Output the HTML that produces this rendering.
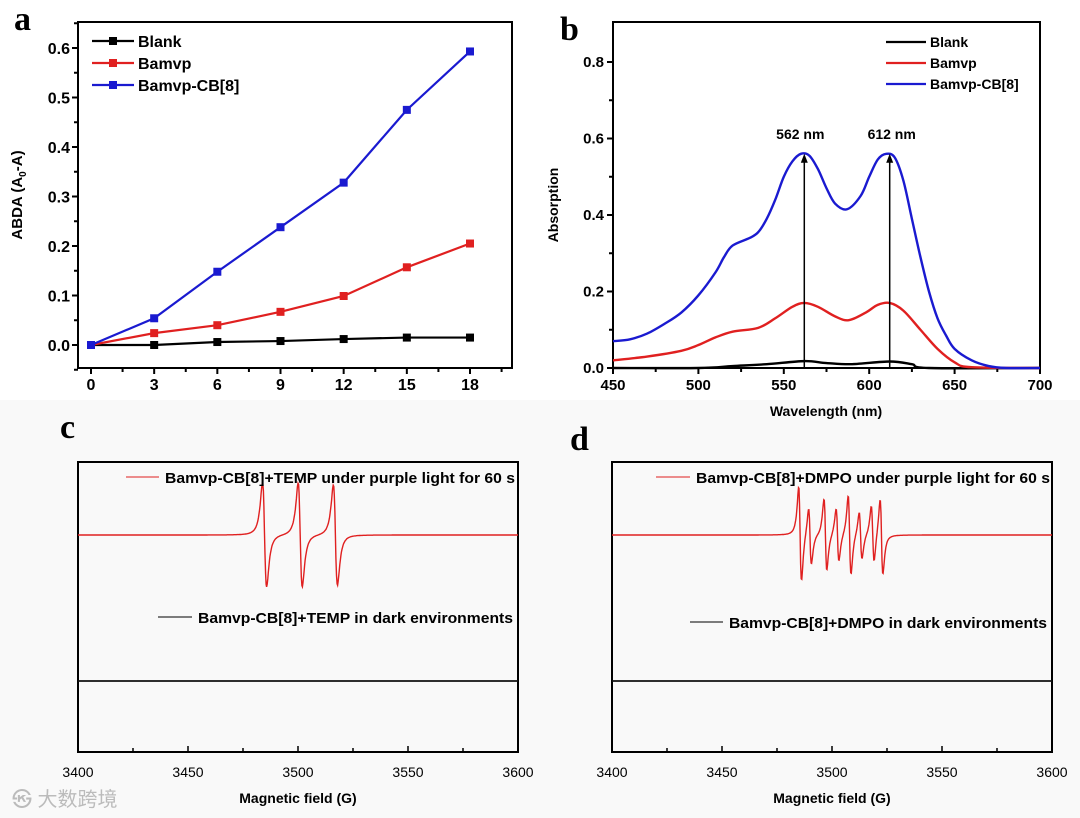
<!DOCTYPE html>
<html><head><meta charset="utf-8">
<style>
html,body{margin:0;padding:0;background:#fff;}
svg{display:block;font-family:"Liberation Sans",Arial,sans-serif;}
</style></head>
<body>
<svg id="fig" width="1080" height="818" viewBox="0 0 1080 818" xmlns="http://www.w3.org/2000/svg">
<rect x="0" y="400" width="1080" height="418" fill="#f9f9f9"/>
<text x="14" y="30" font-family="Liberation Serif,serif" font-weight="bold" font-size="34">a</text>
<text x="560" y="40" font-family="Liberation Serif,serif" font-weight="bold" font-size="34">b</text>
<text x="60" y="438" font-family="Liberation Serif,serif" font-weight="bold" font-size="34">c</text>
<text x="570" y="450" font-family="Liberation Serif,serif" font-weight="bold" font-size="34">d</text>
<text x="12" y="806" font-family="Liberation Sans,Noto Sans CJK SC,sans-serif" font-size="20" fill="#bbb">㉿ 大数跨境</text>
<g id="pa"></g><g id="pb"></g><g id="pc"></g><g id="pd"></g>
</svg>
<script>
// Panel a data
const aX = [0,3,6,9,12,15,18];
const aBlank = [0,0,0.006,0.008,0.012,0.015,0.015];
const aBamvp = [0,0.024,0.040,0.067,0.099,0.157,0.205];
const aCB = [0,0.054,0.148,0.238,0.328,0.475,0.593];
const aXTicks = [0,3,6,9,12,15,18];
const aYTicks = [0.0,0.1,0.2,0.3,0.4,0.5,0.6];
// Panel b data
const bBlueX = [450,460,470,480,490,500,510,515,520,530,535,540,545,550,555,560,565,570,575,580,587,595,600,605,610,615,620,625,630,635,640,645,650,660,670,680,700];
const bBlueY = [0.07,0.075,0.09,0.115,0.145,0.19,0.25,0.29,0.32,0.34,0.355,0.39,0.44,0.5,0.54,0.56,0.555,0.52,0.47,0.43,0.415,0.45,0.5,0.545,0.56,0.55,0.49,0.39,0.29,0.2,0.13,0.085,0.05,0.02,0.005,0,0];
const bRedX = [450,470,490,500,510,520,535,545,555,562,570,580,588,598,605,612,620,630,640,650,660,700];
const bRedY = [0.02,0.03,0.045,0.06,0.08,0.095,0.105,0.13,0.16,0.17,0.16,0.135,0.125,0.145,0.165,0.17,0.15,0.1,0.05,0.015,0.002,0];
const bBlackX = [450,500,520,540,562,575,590,612,625,635,700];
const bBlackY = [0,0,0.005,0.01,0.018,0.013,0.01,0.017,0.01,0,0];
const bXTicks = [450,500,550,600,650,700];
const bYTicks = [0.0,0.2,0.4,0.6,0.8];
const bPeaks = [562,612];
const bPeakVals = [0.56,0.56];
// Panel c/d EPR line parameters
const epXTicks = [3400,3450,3500,3550,3600];
const cCenters = [3484.8,3501,3517];
const cAmps = [0.55,0.55,0.53];
const dCenters = [3485.5,3490,3497,3502.5,3508,3513,3518.5,3522.5];
const dAmps = [0.5,0.3,0.38,0.28,0.42,0.25,0.3,0.4];

const NS='http://www.w3.org/2000/svg';
function mk(parent,tag,attrs){const e=document.createElementNS(NS,tag);for(const k in attrs)e.setAttribute(k,attrs[k]);parent.appendChild(e);return e;}
function txt(parent,x,y,s,attrs){const e=mk(parent,'text',Object.assign({x:x,y:y},attrs||{}));e.textContent=s;return e;}

// ---------- Panel a ----------
(function(){
const g=document.getElementById('pa');
const L=78,R=512,T=22,B=368;
const sx=v=>91+(v-0)*(470-91)/18;
const sy=v=>345-v*(345-48)/0.6;
let e=mk(g,'rect',{x:L,y:T,width:R-L,height:B-T,fill:'none',stroke:'#000','stroke-width':2});

for(let v=0;v<=19.5;v+=1.5){const maj=Math.abs(v/3-Math.round(v/3))<1e-6;
 e=mk(g,'line',{x1:sx(v),x2:sx(v),y1:B,y2:B+(maj?6:4),stroke:'#000','stroke-width':2});
 }
aXTicks.forEach(v=>{e=txt(g,sx(v),390,String(v),{'text-anchor':'middle','font-size':16,'font-weight':'bold'});
 });
for(let v=-0.05;v<=0.65;v+=0.05){e=mk(g,'line',{x1:L,x2:L-(Math.abs(v*10-Math.round(v*10))<1e-6?6:4),y1:sy(v),y2:sy(v),stroke:'#000','stroke-width':2});
 }
aYTicks.forEach(v=>{e=txt(g,70,sy(v)+6,v.toFixed(1),{'text-anchor':'end','font-size':16,'font-weight':'bold'});
 });
e=mk(g,'text',{x:0,y:0,transform:'translate(22,195) rotate(-90)','text-anchor':'middle','font-size':15,'font-weight':'bold'});
e.innerHTML='ABDA (A<tspan font-size="10" dy="4">0</tspan><tspan dy="-4">-A)</tspan>';

const series=[[aBlank,'#000','blank'],[aBamvp,'#e02020','bamvp'],[aCB,'#1a1ad0','bamvp-cb8']];
series.forEach(([ys,c,n])=>{
 e=mk(g,'polyline',{points:aX.map((x,i)=>sx(x)+','+sy(ys[i])).join(' '),fill:'none',stroke:c,'stroke-width':2.2});
 
 aX.forEach((x,i)=>{e=mk(g,'rect',{x:sx(x)-4,y:sy(ys[i])-4,width:8,height:8,fill:c});
  });
});
const leg=[['Blank','#000'],['Bamvp','#e02020'],['Bamvp-CB[8]','#1a1ad0']];
leg.forEach(([s,c],i)=>{const y=41+i*22;
 e=mk(g,'line',{x1:92,x2:134,y1:y,y2:y,stroke:c,'stroke-width':2.2});
 e=mk(g,'rect',{x:109,y:y-4,width:8,height:8,fill:c});
 e=txt(g,138,y+6,s,{'font-size':16,'font-weight':'bold'});});
})();

// ---------- Panel b ----------
(function(){
const g=document.getElementById('pb');
const L=613,R=1040,T=22,B=368;
const sx=v=>L+(v-450)*(R-L)/250;
const sy=v=>368-v*(368-62)/0.8;
let e=mk(g,'rect',{x:L,y:T,width:R-L,height:B-T,fill:'none',stroke:'#000','stroke-width':2});

for(let v=450;v<=700;v+=25){e=mk(g,'line',{x1:sx(v),x2:sx(v),y1:B,y2:B+(v%50===0?6:4),stroke:'#000','stroke-width':2});
 }
bXTicks.forEach(v=>{e=txt(g,sx(v),390,String(v),{'text-anchor':'middle','font-size':15,'font-weight':'bold'});
 });
for(let v=0;v<=0.85;v+=0.1){e=mk(g,'line',{x1:L,x2:L-(Math.round(v*10)%2===0?6:4),y1:sy(v),y2:sy(v),stroke:'#000','stroke-width':2});
 }
bYTicks.forEach(v=>{e=txt(g,604,sy(v)+5,v.toFixed(1),{'text-anchor':'end','font-size':15,'font-weight':'bold'});
 });
e=txt(g,0,0,'Absorption',{transform:'translate(558,205) rotate(-90)','text-anchor':'middle','font-size':14,'font-weight':'bold'});

e=txt(g,826,416,'Wavelength (nm)',{'text-anchor':'middle','font-size':14,'font-weight':'bold'});

function smooth(xs,ys){let d='M'+sx(xs[0])+','+sy(ys[0]);
 for(let i=0;i<xs.length-1;i++){const x0=sx(xs[Math.max(0,i-1)]),y0=sy(ys[Math.max(0,i-1)]),x1=sx(xs[i]),y1=sy(ys[i]),x2=sx(xs[i+1]),y2=sy(ys[i+1]),x3=sx(xs[Math.min(xs.length-1,i+2)]),y3=sy(ys[Math.min(xs.length-1,i+2)]);
  d+=' C'+(x1+(x2-x0)/6)+','+(y1+(y2-y0)/6)+' '+(x2-(x3-x1)/6)+','+(y2-(y3-y1)/6)+' '+x2+','+y2;}
 return d;}
[[bBlackX,bBlackY,'#000','blank'],[bRedX,bRedY,'#e02020','bamvp'],[bBlueX,bBlueY,'#1a1ad0','bamvp-cb8']].forEach(([xs,ys,c,n])=>{
 e=mk(g,'path',{d:smooth(xs,ys),fill:'none',stroke:c,'stroke-width':2.4});
 });
bPeaks.forEach((p,i)=>{
 e=mk(g,'line',{x1:sx(p),x2:sx(p),y1:sy(0),y2:sy(bPeakVals[i])+8,stroke:'#000','stroke-width':1.5});
 
 e=mk(g,'polygon',{points:(sx(p)-3.5)+','+(sy(bPeakVals[i])+9)+' '+(sx(p)+3.5)+','+(sy(bPeakVals[i])+9)+' '+sx(p)+','+sy(bPeakVals[i]),fill:'#000'});
 
 e=txt(g,sx(p)+(i===0?-4:2),139,p+' nm',{'text-anchor':'middle','font-size':14,'font-weight':'bold'});
 });
const leg=[['Blank','#000'],['Bamvp','#e02020'],['Bamvp-CB[8]','#1a1ad0']];
leg.forEach(([s,c],i)=>{const y=42+i*21;
 e=mk(g,'line',{x1:886,x2:926,y1:y,y2:y,stroke:c,'stroke-width':2.2});
 e=txt(g,930,y+5,s,{'font-size':14,'font-weight':'bold'});});
})();

// ---------- Panels c and d ----------
function epr(id,L,R,centers,amps,width,redLabel,blackLabel,redLegX,redTxtX,redTxtEnd,blackLegX,blackTxtX,blackTxtEnd,blackLegY){
const g=document.getElementById(id);
const T=462,B=752;
const sx=v=>L+(v-3400)*(R-L)/200;
const sy=v=>681-v*146;
let e=mk(g,'rect',{x:L,y:T,width:R-L,height:B-T,fill:'none',stroke:'#000','stroke-width':2});

for(let v=3400;v<=3600;v+=25){e=mk(g,'line',{x1:sx(v),x2:sx(v),y1:B,y2:B-(v%50===0?6:4),stroke:'#000','stroke-width':1.5});
 }
epXTicks.forEach(v=>{e=txt(g,sx(v),777,String(v),{'text-anchor':'middle','font-size':14});
 });
e=txt(g,(L+R)/2,803,'Magnetic field (G)',{'text-anchor':'middle','font-size':14,'font-weight':'bold'});

let pts=[];
for(let f=3400;f<=3600;f+=0.25){let v=1;
 centers.forEach((c,i)=>{const u=(f-c)/width;v+=-amps[i]*2*u/Math.pow(1+u*u,2);});
 pts.push(sx(f).toFixed(1)+','+sy(v).toFixed(1));}
e=mk(g,'polyline',{points:pts.join(' '),fill:'none',stroke:'#e02020','stroke-width':1.4});

e=mk(g,'line',{x1:L,x2:R,y1:sy(0),y2:sy(0),stroke:'#111','stroke-width':1.8});

e=mk(g,'line',{x1:redLegX,x2:redTxtX-6,y1:477,y2:477,stroke:'#e02020','stroke-width':1});

e=txt(g,redTxtX,483,redLabel,{'font-size':15,'font-weight':'bold',textLength:redTxtEnd-redTxtX,lengthAdjust:'spacingAndGlyphs'});

e=mk(g,'line',{x1:blackLegX,x2:blackTxtX-6,y1:blackLegY,y2:blackLegY,stroke:'#000','stroke-width':1});

e=txt(g,blackTxtX,blackLegY+6,blackLabel,{'font-size':15,'font-weight':'bold',textLength:blackTxtEnd-blackTxtX,lengthAdjust:'spacingAndGlyphs'});

}
epr('pc',78,518,cCenters,cAmps,1.6,'Bamvp-CB[8]+TEMP under purple light for 60 s','Bamvp-CB[8]+TEMP in dark environments',126,165,515,158,198,513,617);
epr('pd',612,1052,dCenters,dAmps,1.1,'Bamvp-CB[8]+DMPO under purple light for 60 s','Bamvp-CB[8]+DMPO in dark environments',656,696,1050,690,729,1047,622);
</script>
</body></html>
